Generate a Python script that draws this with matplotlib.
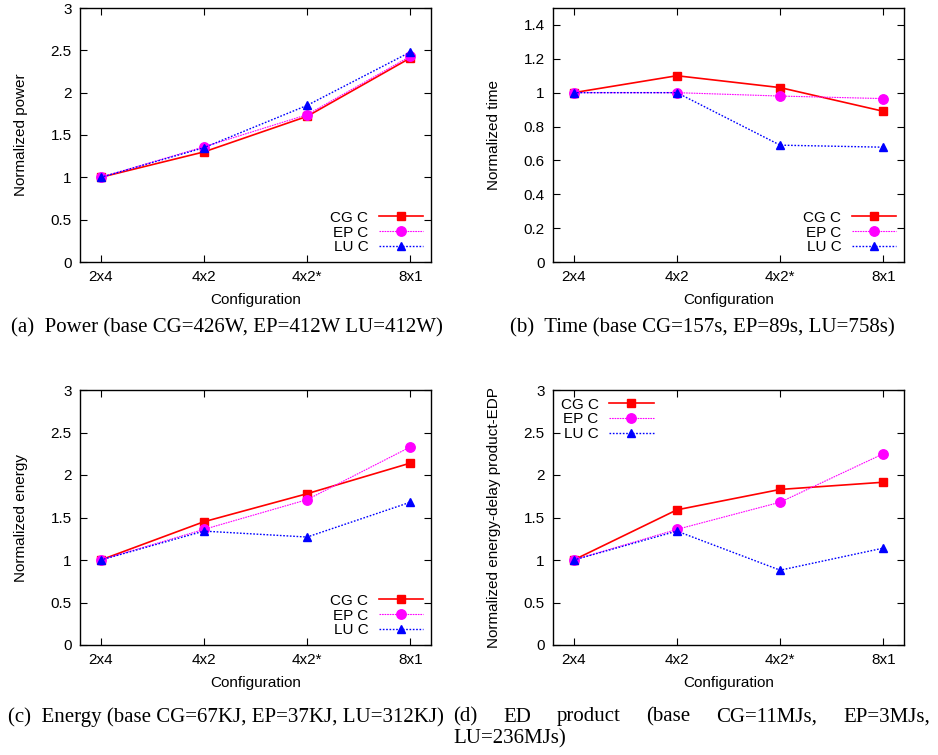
import matplotlib
matplotlib.use("Agg")
import matplotlib.pyplot as plt

# data
configs = ["2x4", "4x2", "4x2*", "8x1"]

power_cg = [1.00, 1.30, 1.72, 2.41]
power_ep = [1.00, 1.36, 1.74, 2.43]
power_lu = [1.00, 1.35, 1.85, 2.48]

time_cg = [1.00, 1.10, 1.03, 0.89]
time_ep = [1.00, 1.00, 0.98, 0.965]
time_lu = [1.00, 1.00, 0.69, 0.678]

energy_cg = [1.00, 1.45, 1.78, 2.14]
energy_ep = [1.00, 1.36, 1.71, 2.33]
energy_lu = [1.00, 1.34, 1.27, 1.68]

edp_cg = [1.00, 1.59, 1.83, 1.915]
edp_ep = [1.00, 1.36, 1.68, 2.25]
edp_lu = [1.00, 1.34, 0.88, 1.14]

labels = ["CG C", "EP C", "LU C"]

plt.rcParams['font.family'] = ['Liberation Sans', 'DejaVu Sans']
plt.rcParams['font.size'] = 11

W, H = 938, 755
fig = plt.figure(figsize=(W / 100, H / 100), dpi=100)


def px_axes(x0, y0, x1, y1):
    return fig.add_axes([x0 / W, 1 - y1 / H, (x1 - x0) / W, (y1 - y0) / H])


def panel(ax, cg, ep, lu, ylabel, ymax, yticks, loc):
    xs = range(len(configs))
    ax.plot(xs, cg, color='#ff0000', lw=1.2, ls='-', marker='s', ms=6.3, label=labels[0])
    ax.plot(xs, ep, color='#ff00ff', lw=0.8, ls=(0, (1.5, 0.8)), marker='o', ms=6.8, label=labels[1])
    ax.plot(xs, lu, color='#0000ff', lw=1.0, ls=(0, (1.2, 1.2)), marker='^', ms=6.3, label=labels[2])
    ax.set_xlim(-0.2, 3.2)
    ax.set_ylim(0, ymax)
    ax.set_xticks(list(xs))
    ax.set_xticklabels(configs)
    ax.set_yticks(yticks)
    ax.set_yticklabels(["%g" % t for t in yticks])
    ax.tick_params(direction='in', top=True, right=True, length=5, width=0.8, pad=6)
    for s in ax.spines.values():
        s.set_linewidth(1.0)
    ax.set_xlabel("Configuration", labelpad=6)
    ax.set_ylabel(ylabel, labelpad=16)
    ax.legend(loc=loc, frameon=False, markerfirst=False, handlelength=2.9,
              handletextpad=0.7, labelspacing=0.05, borderaxespad=0.3, borderpad=0.2)


ax_a = px_axes(80, 8, 431, 262)
panel(ax_a, power_cg, power_ep, power_lu, "Normalized power", 3,
      [0, 0.5, 1, 1.5, 2, 2.5, 3], 'lower right')
ax_b = px_axes(553, 8, 904, 262)
panel(ax_b, time_cg, time_ep, time_lu, "Normalized time", 1.5,
      [0, 0.2, 0.4, 0.6, 0.8, 1, 1.2, 1.4], 'lower right')
ax_c = px_axes(80, 390, 431, 645)
panel(ax_c, energy_cg, energy_ep, energy_lu, "Normalized energy", 3,
      [0, 0.5, 1, 1.5, 2, 2.5, 3], 'lower right')
ax_d = px_axes(553, 390, 904, 645)
panel(ax_d, edp_cg, edp_ep, edp_lu, "Normalized energy-delay product-EDP", 3,
      [0, 0.5, 1, 1.5, 2, 2.5, 3], 'upper left')

# captions
cap = dict(family=['Liberation Serif', 'DejaVu Serif'], fontsize=15, va='center')
fig.text(11 / W, 1 - 328 / H, "(a)  Power (base CG=426W, EP=412W LU=412W)", ha='left', **cap)
fig.text(510 / W, 1 - 328 / H, "(b)  Time (base CG=157s, EP=89s, LU=758s)", ha='left', **cap)
fig.text(8 / W, 1 - 717 / H, "(c)  Energy (base CG=67KJ, EP=37KJ, LU=312KJ)", ha='left', **cap)

# (d) caption: justified first line
words = ["(d)", "ED", "product", "(base", "CG=11MJs,", "EP=3MJs,"]
x_left, x_right = 453, 930
fig.canvas.draw()
r = fig.canvas.get_renderer()
objs = [fig.text(0, 1 - 717 / H, w, ha='left', **cap) for w in words]
widths = [o.get_window_extent(r).width for o in objs]
gap = (x_right - x_left - sum(widths)) / (len(words) - 1)
x = x_left
for o, w in zip(objs, widths):
    o.set_x(x / W)
    x += w + gap
fig.text(x_left / W, 1 - 739 / H, "LU=236MJs)", ha='left', **cap)

fig.savefig("out.png", dpi=100)
